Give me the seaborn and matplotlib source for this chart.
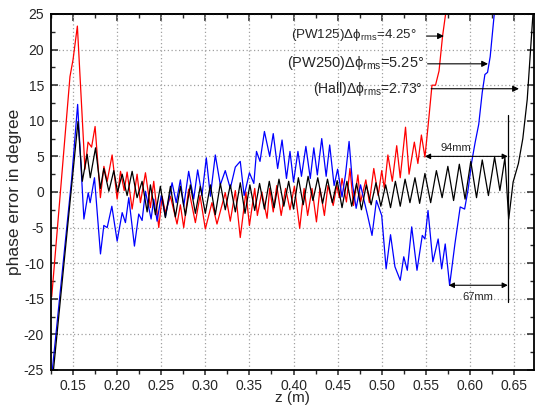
import numpy as np
import pandas as pd
import matplotlib
matplotlib.use("Agg")
import matplotlib.pyplot as plt
import seaborn as sns
from matplotlib.ticker import MultipleLocator

# ---------------- data: (z [m], phase error [deg]) ----------------
hall_points = [
    (0.127, -26.0), (0.1556, 9.9), (0.1605, 1.5), (0.166, 5.3), (0.1695, 2.0), (0.1755, 6.2),
    (0.181, 0.5), (0.1849, 3.3), (0.1906, 0.1), (0.1962, 3.0), (0.2005, 0.0), (0.2057, 2.5),
    (0.2113, -0.5), (0.217, 2.9), (0.2226, -0.8), (0.2283, 1.5), (0.234, -2.8), (0.2377, 1.0),
    (0.2434, -3.2), (0.249, 0.8), (0.2547, -3.6), (0.2604, 0.8), (0.266, -3.5), (0.2717, 0.8),
    (0.2774, -3.3), (0.283, 1.0), (0.2887, -3.0), (0.2943, 0.8), (0.300, -3.0), (0.3057, 1.0),
    (0.3113, -3.2), (0.317, 1.2), (0.3226, -2.5), (0.3283, 1.0), (0.334, -2.8), (0.3396, 1.3),
    (0.345, -3.0), (0.3505, 1.0), (0.356, -2.6), (0.3615, 1.2), (0.367, -2.4), (0.3725, 1.5),
    (0.378, -2.2), (0.3835, 1.8), (0.389, -2.0), (0.3945, 1.5), (0.400, -2.4), (0.4055, 2.0),
    (0.411, -1.8), (0.4165, 2.2), (0.422, -1.2), (0.4275, 2.0), (0.433, -1.6), (0.4385, 1.8),
    (0.444, -1.5), (0.4495, 1.6), (0.455, -2.2), (0.4605, 1.5), (0.466, -2.0), (0.4715, 1.2),
    (0.477, -2.5), (0.4825, 1.0), (0.488, -1.8), (0.4935, 1.3), (0.499, -2.0), (0.5045, 1.0),
    (0.510, -2.2), (0.5155, 1.5), (0.521, -2.0), (0.5265, 1.8), (0.532, -1.5), (0.5377, 2.0),
    (0.543, -1.6), (0.549, 2.6), (0.5555, -1.5), (0.562, 3.0), (0.5685, -0.8), (0.575, 3.6),
    (0.5815, -1.2), (0.588, 3.9), (0.5945, -1.0), (0.601, 4.3), (0.6075, -0.8), (0.614, 4.5),
    (0.621, -0.5), (0.628, 4.9), (0.634, 0.2), (0.6397, 4.8), (0.644, -3.8), (0.649, 1.4),
    (0.655, 4.0), (0.660, 7.5), (0.665, 13.0), (0.6715, 25.0),
]

pw125_points = [
    (0.1258, -14.7), (0.135, -1.0), (0.1465, 16.2), (0.150, 18.6), (0.1549, 23.3),
    (0.1635, 3.2), (0.167, 7.0), (0.171, 6.3), (0.175, 9.2), (0.181, -0.8), (0.185, 3.6),
    (0.1887, 1.5), (0.1943, 5.2), (0.200, -1.0), (0.2038, 2.9), (0.208, 0.2), (0.2113, 2.8),
    (0.217, -2.4), (0.2226, 2.5), (0.2264, -1.5), (0.2321, 2.7), (0.2377, -2.2), (0.2415, 1.5),
    (0.2472, -5.0), (0.251, -0.6), (0.2547, -2.9), (0.2604, -0.6), (0.2679, -4.5),
    (0.2717, -1.8), (0.2755, -5.0), (0.2811, 0.4), (0.2887, -4.3), (0.294, -0.5), (0.300, -5.2),
    (0.3075, -1.5), (0.3132, -4.5), (0.3226, -0.1), (0.3283, -4.1), (0.334, 0.2), (0.3396, -6.4),
    (0.346, 0.0), (0.350, -4.7), (0.356, 0.5), (0.359, -3.3), (0.364, 0.0), (0.370, -3.7),
    (0.373, 0.5), (0.377, -2.8), (0.381, 0.9), (0.386, -3.3), (0.391, 0.5), (0.396, -2.5),
    (0.401, 0.8), (0.407, -5.1), (0.412, 0.5), (0.416, -3.3), (0.421, 0.5), (0.426, -4.2),
    (0.430, 0.5), (0.435, -3.3), (0.439, 0.9), (0.445, -1.9), (0.449, 0.9), (0.452, -0.8),
    (0.455, 1.9), (0.460, -1.4), (0.464, 3.3), (0.468, -1.9), (0.473, 2.4), (0.476, -1.4),
    (0.482, 1.7), (0.486, -1.5), (0.491, 3.3), (0.496, -0.5), (0.500, 3.0), (0.503, 0.5),
    (0.507, 5.2), (0.512, 1.5), (0.517, 6.5), (0.521, 2.0), (0.527, 9.1), (0.531, 2.5),
    (0.537, 7.0), (0.541, 4.0), (0.545, 8.0), (0.549, 4.9), (0.553, 9.8), (0.557, 15.0),
    (0.561, 15.0), (0.565, 17.0), (0.569, 21.9), (0.573, 25.5),
]

pw250_points = [
    (0.1265, -25.0), (0.1484, 1.8), (0.1552, 12.3), (0.1623, -3.8), (0.1672, -0.1),
    (0.1694, -1.5), (0.1743, 2.0), (0.1811, -8.7), (0.1849, -4.7), (0.1887, -5.0),
    (0.194, -2.0), (0.200, -6.9), (0.2057, -2.9), (0.2094, -4.3), (0.2132, -0.8),
    (0.2196, -7.6), (0.2245, -3.1), (0.2283, -4.0), (0.2321, 0.1), (0.2385, -3.8),
    (0.2415, -1.0), (0.2453, -4.1), (0.250, -0.5), (0.2547, -3.5), (0.2623, 1.3),
    (0.267, -1.5), (0.2717, 1.7), (0.2755, -2.0), (0.2811, 2.9), (0.2868, -1.0),
    (0.2913, 3.1), (0.2962, -0.5), (0.3011, 4.8), (0.3057, -0.6), (0.3113, 5.2),
    (0.317, 1.0), (0.3226, 3.0), (0.3283, 0.5), (0.334, 3.5), (0.3396, 4.3),
    (0.344, -0.5), (0.350, 2.7), (0.355, 1.2), (0.358, 5.7), (0.362, 4.3),
    (0.367, 8.5), (0.373, 5.0), (0.377, 8.2), (0.382, 3.3), (0.387, 7.3),
    (0.392, 1.9), (0.396, 5.7), (0.400, 1.4), (0.405, 5.7), (0.409, 2.2),
    (0.414, 6.4), (0.419, 1.9), (0.423, 6.2), (0.427, 2.4), (0.432, 7.5),
    (0.437, 2.2), (0.441, 6.6), (0.446, 0.9), (0.450, 3.2), (0.455, -0.7),
    (0.459, 2.5), (0.463, 7.1), (0.467, 1.0), (0.471, -2.3), (0.476, 1.0),
    (0.480, -1.2), (0.484, -3.3), (0.489, -6.1), (0.494, -1.2), (0.500, -3.3),
    (0.505, -10.8), (0.510, -6.0), (0.515, -10.5), (0.521, -12.4), (0.525, -9.1),
    (0.529, -11.0), (0.534, -4.9), (0.540, -11.0), (0.546, -6.1), (0.549, -6.6),
    (0.5525, -2.6), (0.558, -9.8), (0.564, -6.6), (0.568, -10.8), (0.572, -7.3),
    (0.577, -13.1), (0.583, -7.3), (0.589, -2.1), (0.594, -2.4), (0.598, 0.4),
    (0.602, 4.2), (0.606, 7.0), (0.610, 9.5), (0.614, 14.0), (0.617, 16.5),
    (0.620, 16.8), (0.623, 19.0), (0.628, 25.5),
]

series_labels = ["(PW125)", "(PW250)", "(Hall)"]
rms_values = [4.25, 5.25, 2.73]
x_tick_values = [0.15, 0.20, 0.25, 0.30, 0.35, 0.40, 0.45, 0.50, 0.55, 0.60, 0.65]
y_tick_values = [-25, -20, -15, -10, -5, 0, 5, 10, 15, 20, 25]

# ---------------- style ----------------
sns.set_style("white")
plt.rcParams["font.family"] = ["Liberation Sans", "DejaVu Sans"]
plt.rcParams["mathtext.fontset"] = "custom"
plt.rcParams["mathtext.rm"] = "Liberation Sans"
plt.rcParams["mathtext.it"] = "Liberation Sans:italic"

fig = plt.figure(figsize=(5.38, 4.09), dpi=100)
ax = fig.add_axes([0.0948, 0.0954, 0.8978, 0.8704])


def to_df(points):
    return pd.DataFrame(points, columns=["z", "phase"])


line_kw = dict(lw=0.9, ax=ax, sort=False, estimator=None)
sns.lineplot(data=to_df(pw125_points), x="z", y="phase", color="#ff0000", **line_kw)
sns.lineplot(data=to_df(pw250_points), x="z", y="phase", color="#0000ff", **line_kw)
sns.lineplot(data=to_df(hall_points), x="z", y="phase", color="black", **line_kw)
for ln in ax.lines:
    ln.set_solid_joinstyle("round")

ax.set_xlim(0.125, 0.6727)
ax.set_ylim(-25, 25)
ax.set_xticks(x_tick_values)
ax.set_xticklabels([f"{v:.2f}" for v in x_tick_values])
ax.xaxis.set_minor_locator(MultipleLocator(0.025))
ax.set_yticks(y_tick_values)
ax.set_yticklabels([str(v) for v in y_tick_values])
ax.yaxis.set_minor_locator(MultipleLocator(2.5))

ax.grid(True, which="major", color="#a0a0a0", linestyle=(0, (1, 2)), linewidth=0.9)
for s in ax.spines.values():
    s.set_linewidth(1.3)
    s.set_color("black")

ax.tick_params(axis="x", which="major", direction="out", length=3.5, width=1.1,
               labelsize=10, pad=3, bottom=True, top=False)
ax.tick_params(axis="x", which="minor", direction="out", length=3, width=1.0,
               bottom=True, top=False)
ax.tick_params(axis="y", which="major", direction="in", length=5, width=1.1,
               labelsize=10, pad=5, left=True, right=True)
ax.tick_params(axis="y", which="minor", direction="in", length=3, width=1.0,
               left=True, right=True)

top = ax.secondary_xaxis("top")
top.set_xticks(x_tick_values)
top.xaxis.set_minor_locator(MultipleLocator(0.025))
top.tick_params(axis="x", which="major", direction="in", length=5, width=1.1, labeltop=False)
top.tick_params(axis="x", which="minor", direction="in", length=3, width=1.0)
top.spines["top"].set_linewidth(1.3)

ax.set_xlabel("z (m)", fontsize=11, labelpad=-1.5)
ax.set_ylabel("phase error in degree", fontsize=12.5, labelpad=1)

# ---------------- annotations ----------------
text_xy = [(0.540, 22.0), (0.548, 18.1), (0.547, 14.4)]
text_sizes = [9.6, 10.5, 10.1]
arrow_tail = [(0.551, 21.9), (0.552, 18.0), (0.556, 14.5)]
arrow_head = [(0.5705, 21.9), (0.6205, 18.0), (0.6556, 14.5)]
for lab, val, txy, fs, tail, head in zip(series_labels, rms_values, text_xy, text_sizes,
                                         arrow_tail, arrow_head):
    ax.text(txy[0], txy[1], lab + "Δϕ" + r"$_{\mathrm{rms}}$" + f"={val:.2f}°",
            ha="right", va="center", fontsize=fs)
    ax.annotate("", xy=head, xytext=tail,
                arrowprops=dict(arrowstyle="-|>", color="black", lw=0.8,
                                mutation_scale=9, shrinkA=0, shrinkB=0))

# 94 mm and 67 mm markers
ax.plot([0.643, 0.643], [10.8, -15.4], color="black", lw=0.9)
ax.annotate("", xy=(0.549, 5.0), xytext=(0.643, 5.0),
            arrowprops=dict(arrowstyle="<|-|>", color="black", lw=0.8,
                            mutation_scale=8, shrinkA=0, shrinkB=0))
ax.text(0.5836, 6.2, "94mm", ha="center", va="center", fontsize=8)
ax.annotate("", xy=(0.576, -13.1), xytext=(0.643, -13.1),
            arrowprops=dict(arrowstyle="<|-|>", color="black", lw=0.8,
                            mutation_scale=8, shrinkA=0, shrinkB=0))
ax.text(0.609, -14.8, "67mm", ha="center", va="center", fontsize=8)

fig.savefig("out.png", dpi=100)
